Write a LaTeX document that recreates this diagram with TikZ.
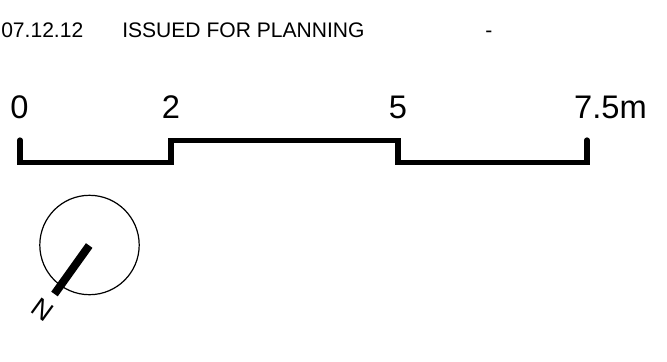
\documentclass[tikz,border=0pt]{standalone}
\usepackage{fontspec}
\setmainfont{Liberation Sans}
\tikzset{px/.style={x=0.75pt,y=-0.75pt},
 small/.style={inner sep=0pt,anchor=base west,font=\fontsize{15.8}{15.8}\selectfont},
 big/.style={inner sep=0pt,anchor=base,font=\fontsize{24.5}{24.5}\selectfont},
 bar/.style={line width=3.9pt,line cap=round,line join=miter}}
\begin{document}
\begin{tikzpicture}[px]
\useasboundingbox (0,0) rectangle (667,361);
\node[small] (date) at (1,37) {07.12.12};
\node[small] (issue) at (122,37) {ISSUED FOR PLANNING};
\node[small] (dash) at (485,37) {-};
\node[big] (s0) at (19.5,118) {0};
\node[big] (s2) at (171,118) {2};
\node[big] (s5) at (398,118) {5};
\node[big,anchor=base east] (s7) at (647,118) {7.5m};
\draw[bar] (20,140)--(20,162.5)--(171,162.5)--(171,140.5)--(398,140.5)--(398,162.5)--(587,162.5)--(587,140);
\draw[line width=0.9pt] (89.5,245) circle (49.7);
\draw[line width=6pt] (89.2,245.5)--(54.5,294);
\node[inner sep=0pt,rotate=-36,font=\fontsize{20}{20}\selectfont] (n) at (43,309.5) {N};
\end{tikzpicture}
\end{document}
